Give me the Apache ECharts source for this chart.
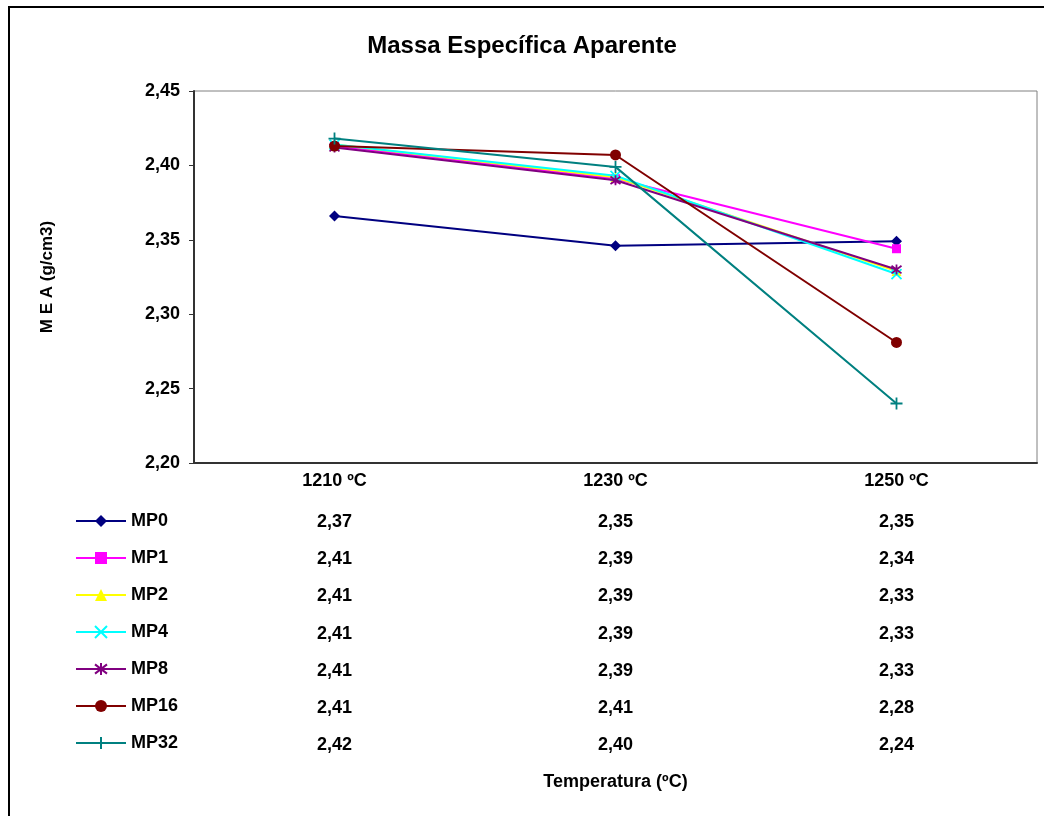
<!DOCTYPE html>
<html>
<head>
<meta charset="utf-8">
<script src="https://cdn.jsdelivr.net/npm/echarts@6/dist/echarts.min.js"></script>
<style>
  html, body { margin: 0; padding: 0; background: #fff; }
  #chart { width: 1044px; height: 816px; }
</style>
</head>
<body>
<div id="chart"></div>
<script>
// Temperature categories
const categories = ['1210 ºC', '1230 ºC', '1250 ºC'];

// Apparent specific mass (g/cm3) per mixture
const seriesNames = ['MP0', 'MP1', 'MP2', 'MP4', 'MP8', 'MP16', 'MP32'];
const mp0  = [2.366, 2.346, 2.349];
const mp1  = [2.413, 2.391, 2.344];
const mp2  = [2.414, 2.392, 2.329];
const mp4  = [2.414, 2.393, 2.327];
const mp8  = [2.412, 2.390, 2.330];
const mp16 = [2.413, 2.407, 2.281];
const mp32 = [2.418, 2.399, 2.240];
const seriesValues = [mp0, mp1, mp2, mp4, mp8, mp16, mp32];

// Y axis range and tick step
const yMin = 2.20, yMax = 2.45, yStep = 0.05;

const colors  = ['#000080', '#FF00FF', '#FFFF00', '#00FFFF', '#800080', '#800000', '#008080'];
const symbols = [
  'diamond',
  'rect',
  'triangle',
  'path://M0,0L10,10M10,0L0,10',
  'path://M0,0L10,10M10,0L0,10M5,-1.5L5,11.5',
  'circle',
  'path://M5,0L5,10M0,5L10,5'
];
const symbolSizes = [11, 9, 10, 10, 10, 11, 12];
const stroked = [false, false, false, true, true, false, true];

const fmt = v => v.toFixed(2).replace('.', ',');
const FONT = 'Liberation Sans, Arial, sans-serif';

const chart = echarts.init(document.getElementById('chart'), null, { renderer: 'canvas' });

const series = seriesNames.map((name, i) => ({
  name,
  type: 'line',
  data: seriesValues[i],
  symbol: symbols[i],
  symbolSize: symbolSizes[i],
  showAllSymbol: true,
  lineStyle: { color: colors[i], width: 2 },
  itemStyle: stroked[i]
    ? { color: colors[i], borderColor: colors[i], borderWidth: 1.8 }
    : { color: colors[i], borderWidth: 0 },
  emphasis: { disabled: true },
  z: 2 + i
}));

const option = {
  animation: false,
  backgroundColor: '#fff',
  title: {
    text: 'Massa Específica Aparente',
    left: 'center',
    top: 29,
    textStyle: { fontFamily: FONT, fontSize: 24, fontWeight: 'bold', color: '#000' }
  },
  grid: {
    left: 194, top: 91, right: 7, bottom: 353,
    show: true, borderColor: '#808080', borderWidth: 1, backgroundColor: '#fff'
  },
  legend: {
    orient: 'vertical',
    left: 70,
    top: 507,
    itemWidth: 50,
    itemHeight: 15,
    itemGap: 19,
    data: seriesNames,
    textStyle: { fontFamily: FONT, fontSize: 18, fontWeight: 'bold', color: '#000' },
    selectedMode: false
  },
  xAxis: {
    type: 'category',
    data: categories,
    boundaryGap: true,
    axisLine: { show: true, lineStyle: { color: '#333', width: 2 } },
    axisTick: { show: false },
    axisLabel: { fontFamily: FONT, fontSize: 18, fontWeight: 'bold', color: '#000', margin: 9 },
    name: 'Temperatura (ºC)',
    nameLocation: 'middle',
    nameGap: 310,
    nameTextStyle: { fontFamily: FONT, fontSize: 18, fontWeight: 'bold', color: '#000' }
  },
  yAxis: {
    type: 'value',
    min: yMin,
    max: yMax,
    interval: yStep,
    axisLine: { show: true, lineStyle: { color: '#333', width: 2 } },
    axisTick: { show: true, inside: false, length: 5, lineStyle: { color: '#333', width: 1 } },
    splitLine: { show: false },
    axisLabel: { fontFamily: FONT, fontSize: 18, fontWeight: 'bold', color: '#000', margin: 14, formatter: fmt },
    name: 'M E A (g/cm3)',
    nameLocation: 'middle',
    nameGap: 138,
    nameRotate: 90,
    nameTextStyle: { fontFamily: FONT, fontSize: 17, fontWeight: 'bold', color: '#000' }
  },
  series
};

chart.setOption(option);

// Data table: value of each series under each category, aligned with legend rows
const rowTop = 522, rowStep = 37.2;
const tableTexts = [];
seriesValues.forEach((vals, r) => {
  vals.forEach((v, c) => {
    const x = chart.convertToPixel({ xAxisIndex: 0 }, categories[c]);
    tableTexts.push({
      type: 'text',
      x: x,
      y: rowTop + r * rowStep,
      style: {
        text: fmt(v),
        fill: '#000',
        font: 'bold 18px ' + FONT,
        textAlign: 'center',
        textVerticalAlign: 'middle'
      },
      silent: true
    });
  });
});

chart.setOption({
  graphic: [
    {
      type: 'rect',
      shape: { x: 9, y: 7, width: 1100, height: 900 },
      style: { fill: 'none', stroke: '#000', lineWidth: 2 },
      silent: true,
      z: 100
    },
    ...tableTexts
  ]
});
</script>
</body>
</html>
